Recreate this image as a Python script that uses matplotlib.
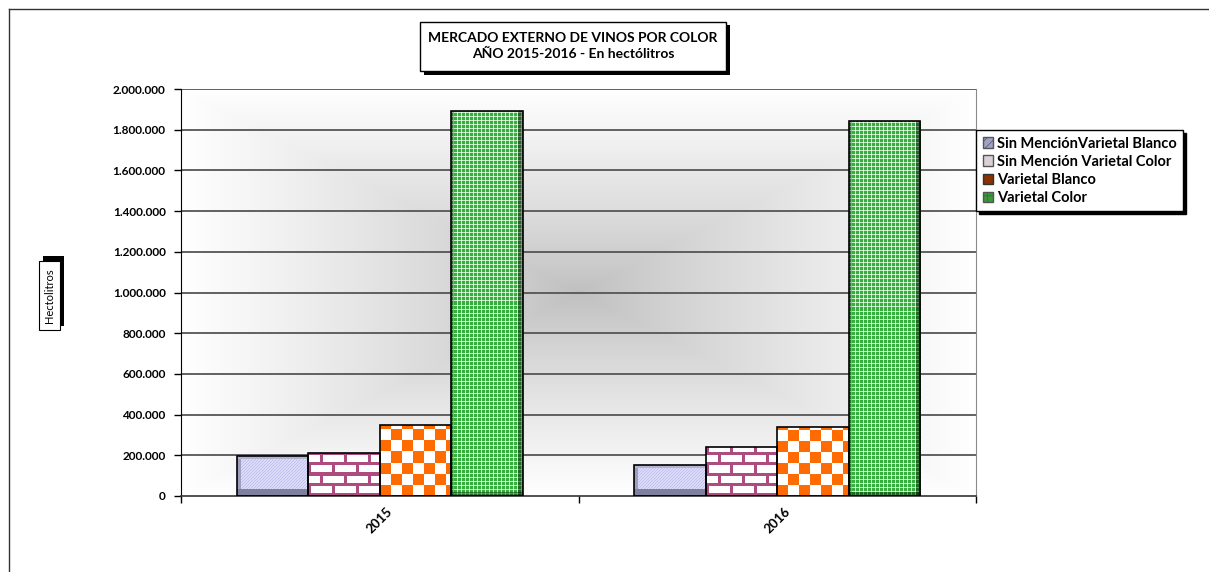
import numpy as np
import matplotlib
matplotlib.use("Agg")
import matplotlib.pyplot as plt
from matplotlib.patches import Rectangle, Patch
from matplotlib.lines import Line2D

plt.rcParams['font.family'] = ['Lato', 'DejaVu Sans']

# Data (hectolitros)
years = ["2015", "2016"]
series = ["Sin MenciónVarietal Blanco", "Sin Mención Varietal Color",
          "Varietal Blanco", "Varietal Color"]
sin_mencion_blanco = [195000, 151000]
sin_mencion_color = [213000, 241000]
varietal_blanco = [349000, 338000]
varietal_color = [1892000, 1843000]
values = [sin_mencion_blanco, sin_mencion_color, varietal_blanco, varietal_color]
patterns = ["diag", "brick", "checker", "plaid"]

W, H = 1209, 572
fig = plt.figure(figsize=(W / 100, H / 100), dpi=100)


def fx(x):
    return x / W


def fy(y):
    return 1 - y / H


ax = fig.add_axes([fx(181), fy(496), fx(976) - fx(181), fy(89) - fy(496)])
ax.set_xlim(-0.5, 1.5)
ax.set_ylim(0, 2000000)
ax.set_autoscale_on(False)

# grey rectangular gradient in the plot area
gy, gx = np.mgrid[-1:1:300j, -1:1:600j]
t = np.clip(np.maximum(np.abs(gx), np.abs(gy)), 0, 1)
grad = 0.75 + (1.0 - 0.75) * t ** 0.85
ax.imshow(np.dstack([grad] * 3), extent=(-0.5, 1.5, 0, 2000000),
          aspect='auto', zorder=0, interpolation='bilinear')

for v in np.arange(200000, 2000001, 200000):
    ax.axhline(v, color='#555555', lw=1.3, zorder=1)


def make_pattern(kind, h, w):
    yy, xx = np.mgrid[0:h, 0:w]
    img = np.ones((h, w, 3))
    if kind == "diag":
        img[:] = [0.86, 0.86, 0.98]
        img[(xx + yy) % 3 == 0] = [0.76, 0.76, 0.93]
        img[:, :4] = [0.62, 0.62, 0.75]
        img[h - 7:, :] = [0.50, 0.50, 0.62]
        img[:3, :] = [0.70, 0.70, 0.82]
    elif kind == "brick":
        mortar = [0.69, 0.30, 0.50]
        row = (h - 1 - yy) // 10
        off = (row % 2) * 12
        mask = ((h - 1 - yy) % 10 < 3) | ((xx + off) % 24 < 3)
        img[mask] = mortar
    elif kind == "checker":
        mask = ((xx // 11) + ((h - 1 - yy) // 11)) % 2 == 0
        img[mask] = [1.0, 0.42, 0.0]
    elif kind == "plaid":
        img[:] = [0.22, 0.68, 0.25]
        img[(xx % 4 == 2) | (yy % 4 == 2)] = [0.78, 0.92, 0.78]
        img[(xx % 4 == 2) & (yy % 4 == 2)] = [1.0, 1.0, 1.0]
        img[:, w - 5:] = img[:, w - 5:] * 0.6
        img[:, :3] = img[:, :3] * 0.7
        img[h - 4:, :] = img[h - 4:, :] * 0.6
    return img


width = 0.18
offsets = [-1.5, -0.5, 0.5, 1.5]
xs = np.arange(len(years))
ax_w_px = 976 - 181
ax_h_px = 496 - 89
for vals, off, kind in zip(values, offsets, patterns):
    bars = ax.bar(xs + off * width, vals, width, facecolor='none',
                  edgecolor='black', lw=1.2, zorder=3)
    for b in bars:
        x0, bw, bh = b.get_x(), b.get_width(), b.get_height()
        wpx = max(int(round(bw / 2 * ax_w_px)), 2)
        hpx = max(int(round(bh / 2000000 * ax_h_px)), 2)
        im = ax.imshow(make_pattern(kind, hpx, wpx), extent=(x0, x0 + bw, 0, bh),
                       aspect='auto', zorder=2, interpolation='nearest')
        im.set_clip_path(b)

ax.set_xlim(-0.5, 1.5)
ax.set_ylim(0, 2000000)

# axes styling
ax.spines["top"].set_visible(False)
ax.spines["right"].set_color('#8a8a8a')
ax.spines["left"].set_color('black')
ax.spines["bottom"].set_color('#333333')
ax.spines["bottom"].set_linewidth(1.2)

yt = np.arange(0, 2000001, 200000)
ax.set_yticks(yt)
ax.set_yticklabels([f"{v:,.0f}".replace(",", ".") for v in yt],
                   fontsize=8.5, fontweight='bold')
ax.tick_params(axis='y', direction='out', length=5, width=1, pad=6)

ax.set_xticks(xs)
ax.set_xticklabels(years, rotation=45, fontsize=9.5, fontweight='bold')
ax.tick_params(axis='x', length=0, pad=7)
ax.set_xticks([-0.5, 0.5, 1.5], minor=True)
ax.tick_params(axis='x', which='minor', direction='out', length=5, width=1)

# title box with shadow
fig.patches.append(Rectangle((fx(424), fy(75)), fx(306), fy(25) - fy(75),
                             transform=fig.transFigure, facecolor='black',
                             edgecolor='none', zorder=5))
fig.patches.append(Rectangle((fx(420), fy(71)), fx(306), fy(22) - fy(71),
                             transform=fig.transFigure, facecolor='white',
                             edgecolor='black', lw=1, zorder=6))
fig.text(fx(573), fy(46), "MERCADO EXTERNO DE VINOS POR COLOR\nAÑO 2015-2016 - En hectólitros",
         ha='center', va='center', fontsize=10, fontweight='bold',
         linespacing=1.35, zorder=7)

# y label box with shadow
fig.patches.append(Rectangle((fx(43), fy(326)), fx(21), fy(256) - fy(326),
                             transform=fig.transFigure, facecolor='black',
                             edgecolor='none', zorder=5))
fig.patches.append(Rectangle((fx(39), fy(330)), fx(21), fy(261) - fy(330),
                             transform=fig.transFigure, facecolor='white',
                             edgecolor='black', lw=0.8, zorder=6))
fig.text(fx(49.5), fy(295.5), "Hectolitros", rotation=90, ha='center',
         va='center', fontsize=8, zorder=7)

# legend
plt.rcParams['hatch.linewidth'] = 0.5
handles = [Patch(facecolor='#a0a0c8', edgecolor='#555555', hatch='////'),
           Patch(facecolor='#dccfd6', edgecolor='#555555'),
           Patch(facecolor='#8a3200', edgecolor='#333333'),
           Patch(facecolor='#3a9a3a', edgecolor='#555555', hatch='++')]
leg = fig.legend(handles, series, loc='upper left',
                 bbox_to_anchor=(fx(976), fy(130)), frameon=True,
                 fancybox=False,
                 shadow={'color': 'black', 'alpha': 1, 'ox': 2, 'oy': -2},
                 prop={'weight': 'bold', 'size': 10.5},
                 handlelength=0.7, handleheight=0.7, handletextpad=0.3,
                 labelspacing=0.28, borderpad=0.45, borderaxespad=0)
leg.get_frame().set_edgecolor('black')
leg.get_frame().set_linewidth(1)

# outer frame (left and top)
fig.add_artist(Line2D([fx(9), fx(9)], [fy(9), 0], transform=fig.transFigure,
                      color='#333333', lw=1))
fig.add_artist(Line2D([fx(9), 1], [fy(9), fy(9)], transform=fig.transFigure,
                      color='#333333', lw=1))

fig.savefig("out.png", dpi=100)
